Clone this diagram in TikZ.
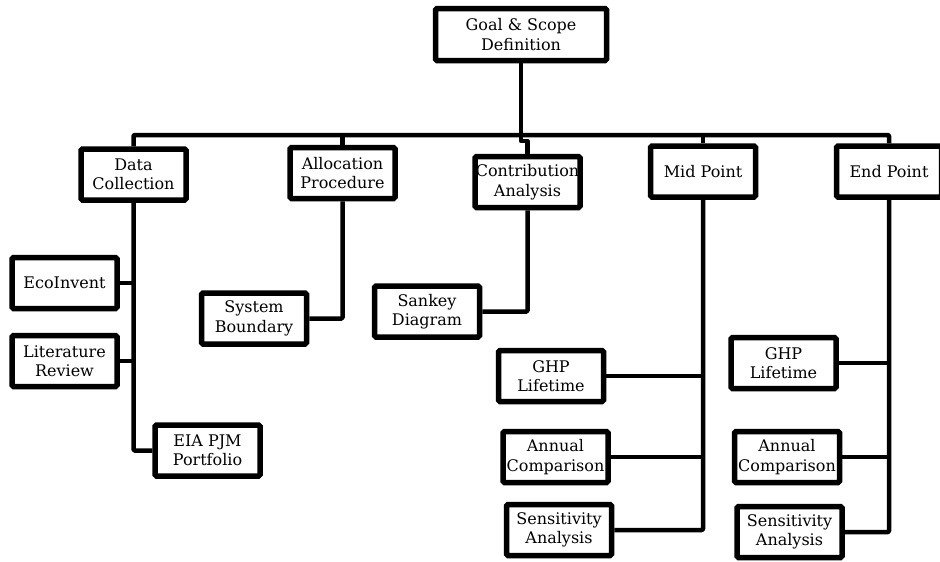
\documentclass[tikz,border=0pt]{standalone}
\usepackage{fontspec}
\setmainfont{DejaVu Serif}
\begin{document}
\begin{tikzpicture}[x=1pt,y=-1pt,
  box/.style={draw=black, fill=white, line width=5.5pt, rounded corners=1.5pt,
    minimum width=105pt, minimum height=51pt, inner sep=0pt, align=center,
    font=\fontsize{16}{19.5}\selectfont},
  wide/.style={minimum width=171pt, minimum height=52pt},
  conn/.style={draw=black, line width=4.5pt, line join=round, rounded corners=1pt}]
\useasboundingbox (0,0) rectangle (940,562);
\coordinate (bus) at (0,135);
% boxes
\node[box,wide] (goal) at (521,34.5) {Goal \& Scope\\Definition};
\node[box] (data) at (133.5,174.5) {Data\\Collection};
\node[box] (alloc) at (342.5,173) {Allocation\\Procedure};
\node[box] (contrib) at (527.5,182) {Contribution\\Analysis};
\node[box] (mid) at (703,171.5) {Mid Point};
\node[box] (endp) at (889,171.5) {End Point};
\node[box] (eco) at (64.5,283) {EcoInvent};
\node[box] (lit) at (64.5,361) {Literature\\Review};
\node[box] (sys) at (254,318.5) {System\\Boundary};
\node[box] (sankey) at (427,311.5) {Sankey\\Diagram};
\node[box] (eia) at (207.5,450.5) {EIA PJM\\Portfolio};
\node[box] (ghpa) at (551,376) {GHP\\Lifetime};
\node[box] (anna) at (555.5,457) {Annual\\Comparison};
\node[box] (sena) at (559,530) {Sensitivity\\Analysis};
\node[box] (ghpb) at (783.5,363) {GHP\\Lifetime};
\node[box] (annb) at (787,457) {Annual\\Comparison};
\node[box] (senb) at (789.5,532) {Sensitivity\\Analysis};
% top bus
\draw[conn] (goal.south) -- (goal.south |- bus);
\draw[conn] (data.north) -- (data.north |- bus) -- (endp.north |- bus) -- (endp.north);
\draw[conn] (alloc.north) -- (alloc.north |- bus);
\draw[conn] (mid.north) -- (mid.north |- bus);
\draw[conn, rounded corners=0pt] (goal.south |- bus) -- ++(0,6) -| (contrib.north);
% data collection branch
\draw[conn] (data.south) |- (eia.west);
\draw[conn] (eco.east) -- (eco.east -| data.south);
\draw[conn] (lit.east) -- (lit.east -| data.south);
% allocation
\draw[conn] (alloc.south) |- (sys.east);
% contribution
\draw[conn] (contrib.south) |- (sankey.east);
% mid point
\draw[conn] (mid.south) |- (sena.east);
\draw[conn] (ghpa.east) -- (ghpa.east -| mid.south);
\draw[conn] (anna.east) -- (anna.east -| mid.south);
% end point
\draw[conn] (endp.south) |- (senb.east);
\draw[conn] (ghpb.east) -- (ghpb.east -| endp.south);
\draw[conn] (annb.east) -- (annb.east -| endp.south);
\end{tikzpicture}
\end{document}
